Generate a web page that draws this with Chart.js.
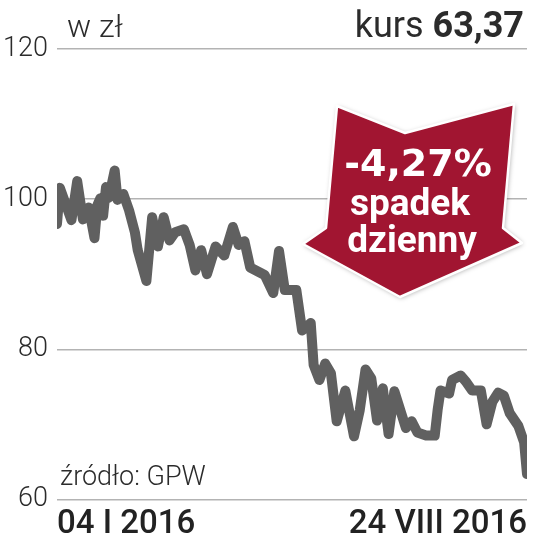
<!DOCTYPE html>
<html>
<head>
<meta charset="utf-8">
<script src="https://cdn.jsdelivr.net/npm/chart.js@4/dist/chart.umd.min.js"></script>
<style>
  html, body { margin: 0; padding: 0; background: #fff; }
  #wrap { width: 533px; height: 551px; }
</style>
</head>
<body>
<div id="wrap"><canvas id="c" width="533" height="551"></canvas></div>
<script>
// trading day index (0 = 04 I 2016, 163 = 24 VIII 2016)
const days = [0, 1, 5, 7, 9, 11, 13, 14, 15, 16, 17, 18, 20, 21, 23, 25, 27, 28, 31, 33,
  35, 37, 39, 41, 44, 46, 48, 50, 52, 55, 58, 61, 63, 65, 67, 70, 72, 75, 77, 79,
  83, 85, 88, 89, 91, 93, 95, 97, 100, 103, 105, 107, 109, 111, 113, 115, 117, 121, 123, 125,
  128, 131, 132, 133, 136, 137, 140, 142, 144, 147, 149, 151, 153, 155, 157, 160, 162, 163];

// closing price, zl
const prices = [96.7, 101.5, 97.2, 102.4, 97.3, 98.9, 94.8, 99.2, 100.1, 97.8, 101.6, 100.2, 103.8, 99.9, 100.7, 98.5, 95.6, 93.2, 89.1, 97.6,
  93.7, 97.6, 94.5, 95.6, 96.0, 93.9, 90.5, 93.2, 90.0, 93.7, 92.5, 96.3, 93.9, 94.4, 90.9, 90.3, 89.9, 87.5, 93.1, 87.9,
  87.9, 82.5, 83.5, 77.9, 75.9, 78.1, 76.8, 70.4, 74.5, 68.4, 71.9, 77.3, 76.1, 70.5, 74.8, 68.7, 74.4, 69.5, 70.4, 68.9,
  68.5, 68.5, 71.9, 74.5, 74.1, 75.9, 76.5, 75.6, 74.5, 74.5, 70.0, 73.0, 74.2, 73.8, 71.5, 69.8, 67.6, 63.37];

const yTicks = [60, 80, 100, 120];
const xTickLabels = ['04 I 2016', '24 VIII 2016'];

const unitLabel = 'w zł';
const priceLabel = 'kurs ';
const priceValue = '63,37';
const sourceLabel = 'źródło: GPW';
const badgeLines = ['-4,27%', 'spadek', 'dzienny'];

// texts + red arrow on top of the chart
const overlay = {
  id: 'overlay',
  afterDraw(chart) {
    const ctx = chart.ctx;
    ctx.save();
    ctx.fillStyle = '#2b2b2b';
    ctx.textBaseline = 'alphabetic';

    ctx.textAlign = 'left';
    ctx.font = '300 32px Roboto';
    ctx.fillText(unitLabel, 67, 37);

    // kurs 63,37 (value bold), right aligned
    ctx.font = '700 36px Roboto';
    const wv = ctx.measureText(priceValue).width;
    ctx.fillText(priceValue, 524 - wv, 37);
    ctx.font = '400 36px Roboto';
    const wk = ctx.measureText(priceLabel).width;
    ctx.fillText(priceLabel, 524 - wv - wk, 37);

    ctx.font = '300 27px Roboto';
    ctx.fillText(sourceLabel, 60, 485);

    // arrow
    const pts = [[337, 106], [405, 133], [514, 104], [503, 228], [522, 243], [400, 297], [303, 244], [326, 228]];
    ctx.beginPath();
    pts.forEach(([x, y], i) => i ? ctx.lineTo(x, y) : ctx.moveTo(x, y));
    ctx.closePath();
    ctx.lineJoin = 'round';
    ctx.shadowColor = 'rgba(0,0,0,0.35)';
    ctx.shadowBlur = 5;
    ctx.shadowOffsetX = 1;
    ctx.shadowOffsetY = 1;
    ctx.fillStyle = '#a11531';
    ctx.fill();
    ctx.shadowColor = 'transparent';
    ctx.strokeStyle = '#fff';
    ctx.lineWidth = 2.5;
    ctx.stroke();

    ctx.fillStyle = '#fff';
    ctx.textAlign = 'center';
    ctx.font = 'bold 38px "DejaVu Sans"';
    ctx.fillText(badgeLines[0], 418, 176);
    ctx.font = '700 37px Roboto';
    ctx.fillText(badgeLines[1], 410, 215);
    ctx.fillText(badgeLines[2], 412, 252);
    ctx.restore();
  },
};

new Chart(document.getElementById('c'), {
  type: 'line',
  data: {
    datasets: [{
      data: days.map((d, i) => ({ x: d, y: prices[i] })),
      borderColor: '#606060',
      borderWidth: 10,
      borderJoinStyle: 'round',
      borderCapStyle: 'round',
      pointRadius: 0,
      tension: 0,
    }],
  },
  options: {
    responsive: false,
    animation: false,
    layout: { padding: { top: 49, right: 6, bottom: 0, left: 4 } },
    plugins: { legend: { display: false }, tooltip: { enabled: false } },
    scales: {
      x: {
        type: 'linear',
        min: 0,
        max: 163,
        grid: { display: false, drawTicks: false },
        border: { display: false },
        afterBuildTicks: (s) => { s.ticks = [{ value: 0 }, { value: 163 }]; },
        afterFit: (s) => { s.paddingLeft = 0; s.paddingRight = 0; },
        ticks: {
          align: 'inner',
          autoSkip: false,
          maxRotation: 0,
          padding: 6,
          color: '#222',
          font: { family: 'Roboto', size: 33, weight: '500' },
          callback: (v, i) => xTickLabels[i],
        },
      },
      y: {
        min: 60,
        max: 120,
        afterBuildTicks: (s) => { s.ticks = yTicks.map((v) => ({ value: v })); },
        afterFit: (s) => { s.width = 53; },
        grid: { color: '#b3b3b3', lineWidth: 1.5, drawTicks: false },
        border: { display: false },
        ticks: {
          padding: 9,
          color: '#2b2b2b',
          font: { family: 'Roboto', size: 27, weight: '300' },
        },
      },
    },
  },
  plugins: [overlay],
});
</script>
</body>
</html>
